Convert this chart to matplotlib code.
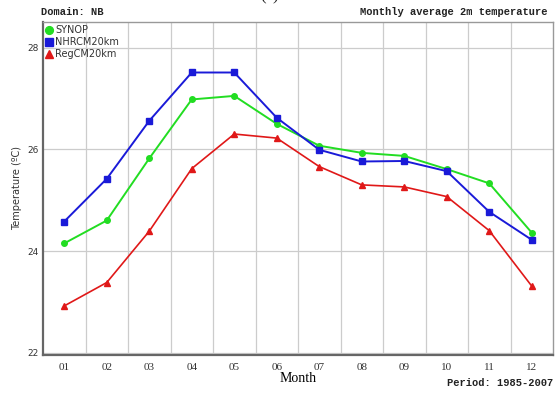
import matplotlib
matplotlib.use("Agg")
import matplotlib.pyplot as plt

months = [1, 2, 3, 4, 5, 6, 7, 8, 9, 10, 11, 12]
month_labels = ["01", "02", "03", "04", "05", "06", "07", "08", "09", "10", "11", "12"]
synop = [24.15, 24.60, 25.82, 26.98, 27.05, 26.50, 26.07, 25.93, 25.87, 25.61, 25.33, 24.36]
nhrcm = [24.58, 25.42, 26.56, 27.51, 27.51, 26.62, 25.99, 25.76, 25.77, 25.57, 24.77, 24.22]
regcm = [22.92, 23.38, 24.39, 25.62, 26.30, 26.22, 25.66, 25.30, 25.26, 25.07, 24.40, 23.31]
yticks = [22, 24, 26, 28]

fig = plt.figure(figsize=(5.59, 3.94), dpi=100)
ax = fig.add_axes([43/559, 1-355/394, 510/559, 333/394])

ax.plot(months, synop, color="#22dd22", marker="o", ms=4, lw=1.4, label="SYNOP")
ax.plot(months, nhrcm, color="#1a1ad8", marker="s", ms=4, lw=1.4, label="NHRCM20km")
ax.plot(months, regcm, color="#e01818", marker="^", ms=4, lw=1.2, label="RegCM20km")

ax.set_xlim(0.5, 12.5)
ax.set_ylim(21.955, 28.503)
ax.set_xticks(months)
ax.set_xticklabels(month_labels, family="Liberation Serif", fontsize=8, color="#333333")
ax.set_xticks([m + 0.5 for m in months[:-1]], minor=True)
ax.set_yticks(yticks)
ax.set_yticklabels([str(v) for v in yticks], family="DejaVu Sans", fontsize=6.5, color="#333333")
ax.tick_params(axis="both", which="both", length=0)
ax.tick_params(axis="x", pad=6)
ax.tick_params(axis="y", pad=3)
ax.grid(True, which="minor", axis="x", color="#cccccc", lw=0.9)
ax.grid(True, which="major", axis="y", color="#cccccc", lw=0.9)
ax.grid(False, which="major", axis="x")
for s in ["left", "bottom"]:
    ax.spines[s].set_color("#666666")
    ax.spines[s].set_linewidth(1.6)
for s in ["top", "right"]:
    ax.spines[s].set_color("#999999")
    ax.spines[s].set_linewidth(1.0)

ax.set_ylabel("Temperature (ºC)", family="DejaVu Sans", fontsize=7, color="#333333", labelpad=4)
ax.set_xlabel("Month", family="Liberation Serif", fontsize=10, labelpad=0)

leg = ax.legend(loc="upper left", frameon=False, fontsize=7, handlelength=0.6,
                handletextpad=0.3, labelspacing=0.2, borderaxespad=0.15,
                borderpad=0.2, markerscale=1.4)
for h in leg.legend_handles:
    h.set_linestyle("none")
for t in leg.get_texts():
    t.set_color("#333333")

fig.text(41/559, 1-12/394, "Domain: NB", family="Liberation Mono", weight="bold",
         fontsize=7.5, ha="left", va="center", color="#222222")
fig.text(548/559, 1-12/394, "Monthly average 2m temperature", family="Liberation Mono",
         weight="bold", fontsize=7.5, ha="right", va="center", color="#222222")
fig.text(553/559, 1-383/394, "Period: 1985-2007", family="Liberation Mono",
         weight="bold", fontsize=7.5, ha="right", va="center", color="#222222")
fig.text(270/559, 1.008, "(a)", family="Liberation Serif", fontsize=12,
         ha="center", va="center", color="#222222")

fig.savefig("out.png", dpi=100)
